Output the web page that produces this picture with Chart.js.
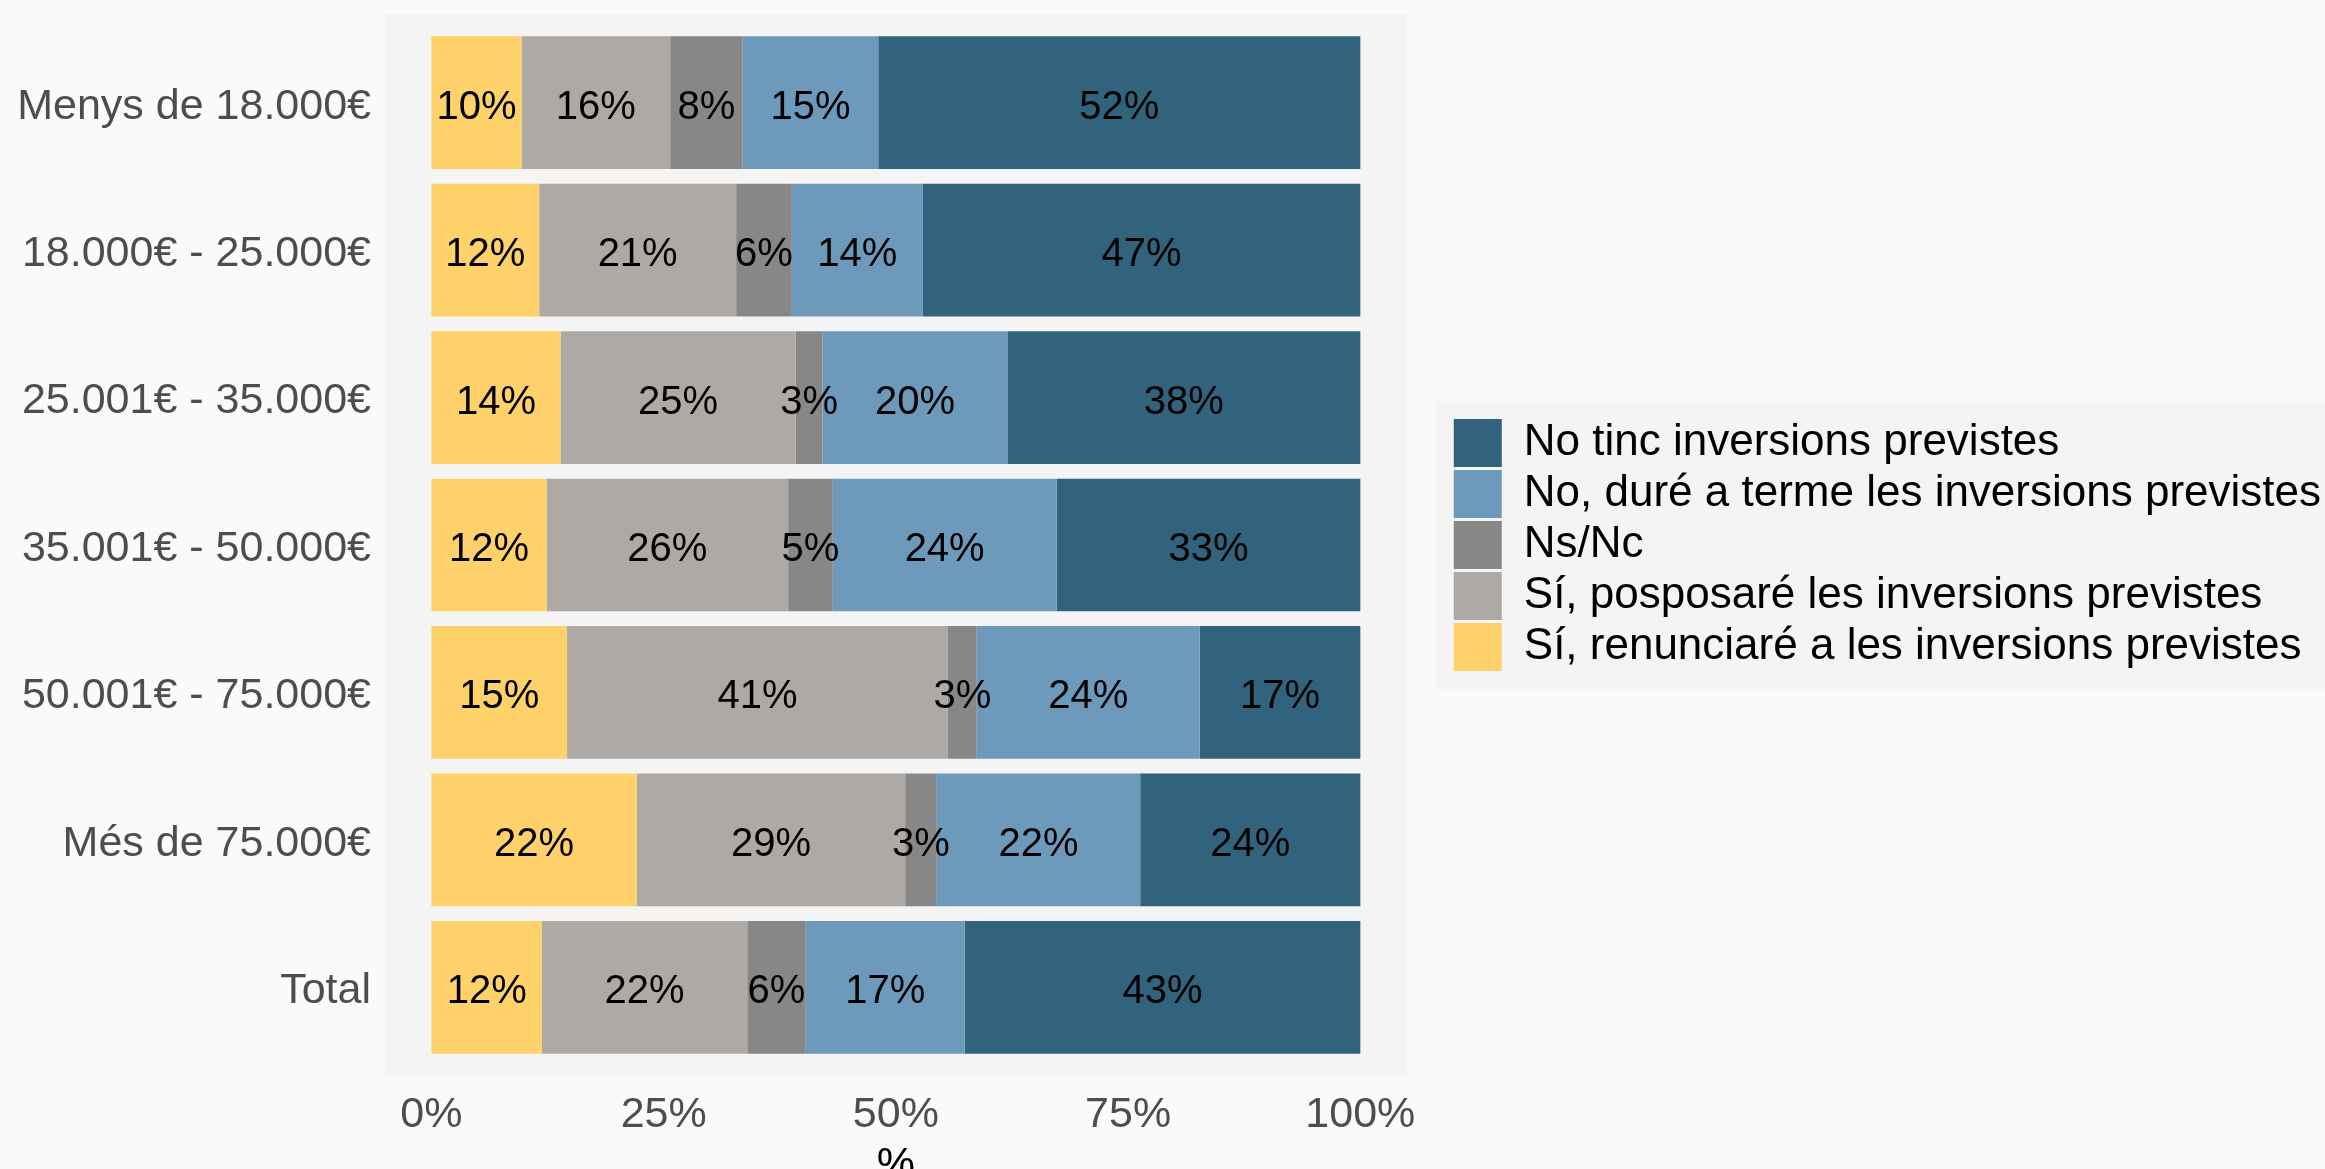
<!DOCTYPE html>
<html>
<head>
<meta charset="utf-8">
<script src="https://cdn.jsdelivr.net/npm/chart.js@4/dist/chart.umd.min.js"></script>
<style>
  body { margin: 0; background: #fafafa; }
  canvas { display: block; }
</style>
</head>
<body>
<canvas id="graph-canva" width="2325" height="1169"></canvas>
<script>
const labels = ['Menys de 18.000€', '18.000€ - 25.000€', '25.001€ - 35.000€', '35.001€ - 50.000€', '50.001€ - 75.000€', 'Més de 75.000€', 'Total'];

// percentages per income band, left to right in the bar
const renunciare = [9.7, 11.6, 13.9, 12.4, 14.6, 22.1, 11.9];
const posposare = [16.0, 21.2, 25.3, 26.0, 41.0, 28.9, 22.1];
const nsnc = [7.8, 6.0, 2.9, 4.8, 3.1, 3.4, 6.3];
const dure = [14.6, 14.1, 19.9, 24.1, 24.0, 21.9, 17.1];
const noTinc = [51.9, 47.1, 38.0, 32.7, 17.3, 23.7, 42.6];

const xTicks = [0, 25, 50, 75, 100];

const FONT = "'Liberation Sans', Arial, sans-serif";

const canva = document.getElementById("graph-canva");

let data = {
  labels: labels,
  datasets: [
    { label: 'Sí, renunciaré a les inversions previstes', data: renunciare, backgroundColor: '#ffd16a' },
    { label: 'Sí, posposaré les inversions previstes', data: posposare, backgroundColor: '#aea9a5' },
    { label: 'Ns/Nc', data: nsnc, backgroundColor: '#878787' },
    { label: 'No, duré a terme les inversions previstes', data: dure, backgroundColor: '#6d9aba' },
    { label: 'No tinc inversions previstes', data: noTinc, backgroundColor: '#31637c' }
  ]
}

// page, panel and legend backgrounds
const backgrounds = {
  id: 'backgrounds',
  beforeDraw(chart) {
    const ctx = chart.ctx;
    const area = chart.chartArea;
    ctx.save();
    ctx.fillStyle = '#fafafa';
    ctx.fillRect(0, 0, chart.width, chart.height);

    const ext = (area.bottom - area.top) / labels.length * 0.1;
    ctx.fillStyle = '#f4f4f4';
    ctx.fillRect(area.left, area.top - ext, area.right - area.left, area.bottom - area.top + 2 * ext);

    const boxes = chart.legend.legendHitBoxes;
    if (boxes && boxes.length) {
      const first = boxes[0];
      const last = boxes[boxes.length - 1];
      const top = first.top - 18;
      ctx.fillRect(first.left - 18, top, chart.width - first.left + 18, last.top + last.height + 18 - top);
    }
    ctx.restore();
  }
};

// percentage text in the middle of every segment
const segmentLabels = {
  id: 'segmentLabels',
  afterDatasetsDraw(chart) {
    const ctx = chart.ctx;
    ctx.save();
    ctx.font = '40px ' + FONT;
    ctx.fillStyle = '#000000';
    ctx.textAlign = 'center';
    ctx.textBaseline = 'middle';
    chart.data.datasets.forEach((ds, i) => {
      chart.getDatasetMeta(i).data.forEach((bar, j) => {
        const p = bar.getProps(['x', 'y', 'base'], true);
        ctx.fillText(Math.round(ds.data[j]) + '%', (p.x + p.base) / 2, p.y + 5);
      });
    });
    ctx.restore();
  }
};

const config = {
  type: 'bar',
  data: data,
  plugins: [backgrounds, segmentLabels],
  options: {
    indexAxis: 'y',
    responsive: false,
    animation: false,
    devicePixelRatio: 1,
    layout: {
      padding: { left: 0, top: 29, right: -6, bottom: 0 }
    },
    datasets: {
      bar: {
        categoryPercentage: 0.9,
        barPercentage: 1.0,
        borderWidth: 0
      }
    },
    plugins: {
      legend: {
        position: 'right',
        fullSize: false,
        reverse: true,
        align: 'center',
        maxWidth: 1000,
        labels: {
          boxWidth: 48,
          boxHeight: 48,
          padding: 3,
          color: '#000000',
          font: { family: FONT, size: 44 }
        }
      },
      tooltip: { enabled: false }
    },
    scales: {
      x: {
        stacked: true,
        min: -5,
        max: 105,
        afterBuildTicks: (axis) => { axis.ticks = xTicks.map(v => ({ value: v })); },
        afterFit: (scale) => {
          scale.height = 108;
          scale.paddingLeft = 0;
          scale.paddingRight = 0;
        },
        grid: { display: false, drawTicks: false },
        border: { display: false },
        ticks: {
          padding: 28,
          color: '#4d4d4d',
          font: { family: FONT, size: 43 },
          callback: (v) => v + '%'
        },
        title: {
          display: true,
          text: '%',
          color: '#000000',
          padding: { top: 0, bottom: -22 },
          font: { family: FONT, size: 43 }
        }
      },
      y: {
        stacked: true,
        afterFit: (scale) => {
          scale.width = 385;
          scale.paddingTop = 0;
          scale.paddingBottom = 0;
        },
        grid: { display: false, drawTicks: false },
        border: { display: false },
        ticks: {
          padding: 14,
          labelOffset: 4,
          color: '#4d4d4d',
          font: { family: FONT, size: 43 }
        }
      },
      // empty axis keeping a gap between the panel and the legend
      y2: {
        type: 'category',
        position: 'right',
        afterFit: (scale) => {
          scale.width = 44;
          scale.paddingTop = 0;
          scale.paddingBottom = 0;
        },
        grid: { display: false, drawTicks: false },
        border: { display: false },
        ticks: { display: false }
      }
    }
  }
};

let chart = new Chart(canva, config);
</script>
</body>
</html>
